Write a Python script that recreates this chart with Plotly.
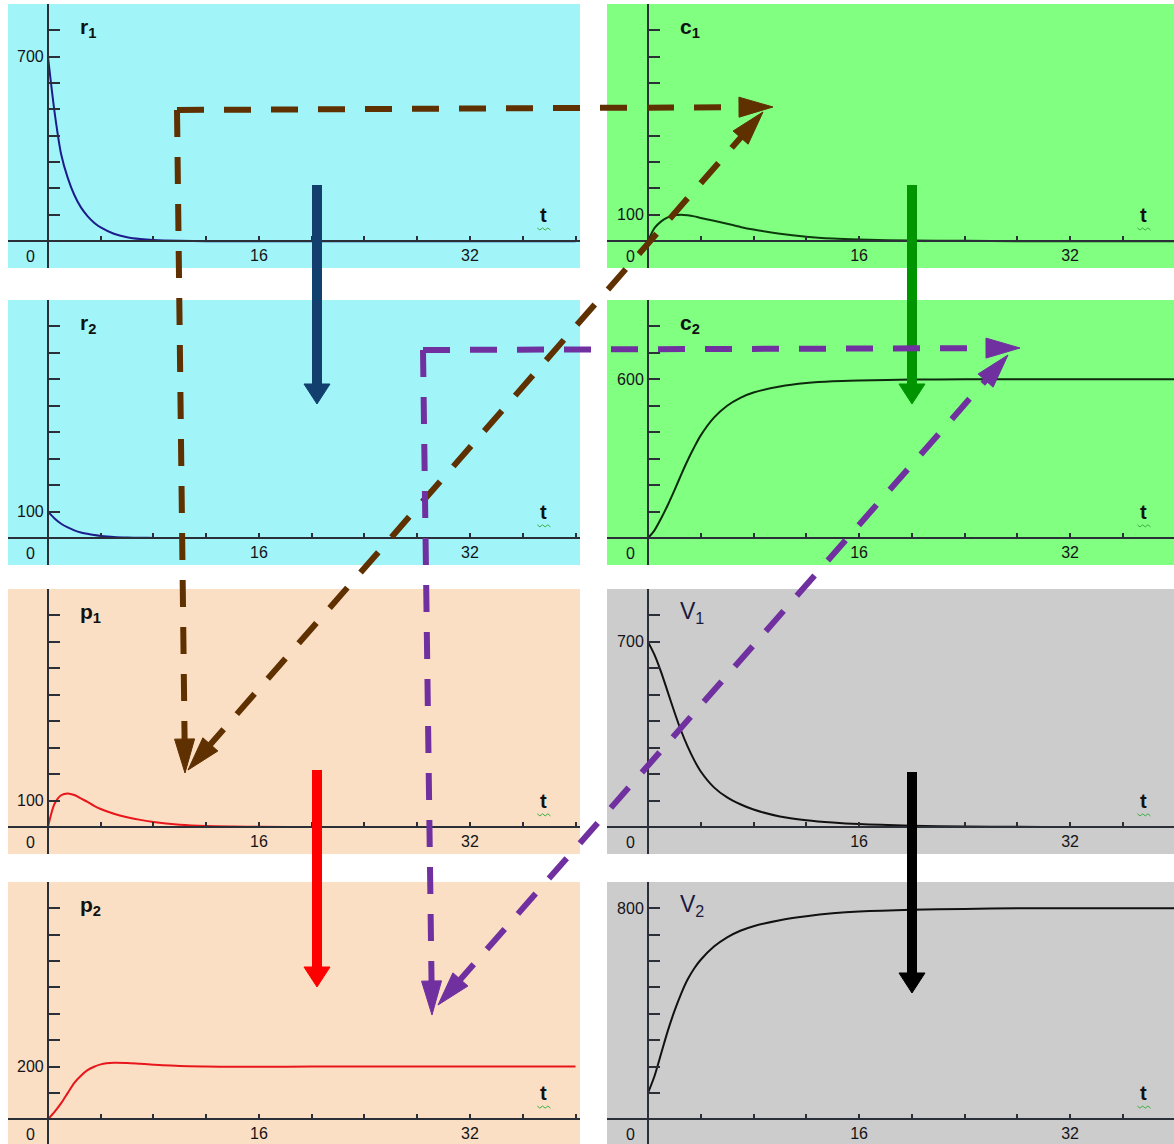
import math
import plotly.graph_objects as go

W, H = 1174, 1144

# ---------------- data ----------------
t = [0, 0.5, 1, 1.5, 2, 2.5, 3, 3.5, 4, 5, 6, 7, 8, 10, 12, 14, 16, 20, 24, 28, 32, 36, 40]

r1 = [700, 490, 330, 240, 175, 128, 95, 70, 52, 28, 15, 8, 4, 1, 0, 0, 0, 0, 0, 0, 0, 0, 0]
r2 = [100, 74, 54, 40, 29, 21, 16, 11, 8, 4, 2, 1, 0.5, 0, 0, 0, 0, 0, 0, 0, 0, 0, 0]
p1 = [0, 88, 120, 127, 121, 108, 95, 80, 68, 50, 37, 27, 19, 9, 4, 2, 1, 0, 0, 0, 0, 0, 0]
p2 = [0, 28, 61, 100, 138, 165, 186, 199, 208, 214, 213, 210, 207, 202, 200, 199, 199, 200, 200, 200, 200, 200, 200]
c1 = [0, 50, 75, 90, 98, 100, 98, 94, 88, 77, 66, 54, 44, 28, 17, 10, 6, 2, 1, 0, 0, 0, 0]
c2 = [0, 30, 75, 125, 180, 238, 293, 343, 388, 455, 500, 530, 550, 573, 586, 593, 596, 599, 600, 600, 600, 600, 600]
V1 = [700, 650, 585, 510, 435, 365, 305, 253, 210, 150, 112, 86, 66, 40, 26, 17, 11, 5, 2, 1, 0, 0, 0]
V2 = [100, 165, 250, 335, 410, 475, 530, 572, 605, 655, 690, 715, 732, 755, 770, 781, 788, 795, 798, 800, 800, 800, 800]

panel_names = ["r1", "c1", "r2", "c2", "p1", "V1", "p2", "V2"]
panel_titles = ["<b>r<sub>1</sub></b>", "<b>c<sub>1</sub></b>", "<b>r<sub>2</sub></b>", "<b>c<sub>2</sub></b>",
                "<b>p<sub>1</sub></b>", "V<sub>1</sub>", "<b>p<sub>2</sub></b>", "V<sub>2</sub>"]
panel_series = [r1, c1, r2, c2, p1, V1, p2, V2]
panel_label_value = [700, 100, 100, 600, 100, 700, 200, 800]
y_tick_values = [100, 200, 300, 400, 500, 600, 700, 800]
x_tick_values = [4, 8, 12, 16, 20, 24, 28, 32, 36, 40]
x_labeled_ticks = [16, 32]

# ---------------- styles / layout constants ----------------
line_colors = ["#1c1c8a", "#0d3a0d", "#1c1c8a", "#0d2a0d", "#e8161b", "#111111", "#e8161b", "#111111"]
bg_colors = ["#a1f5f9", "#80ff80", "#a1f5f9", "#80ff80", "#fbdfc4", "#cccccc", "#fbdfc4", "#cccccc"]
title_colors = ["#111111", "#111111", "#111111", "#111111", "#111111", "#1a1a40", "#111111", "#1a1a40"]

col_px = [(8, 580), (607, 1174)]
row_px = [(4, 268), (300, 565), (589, 854), (882, 1144)]
x_ranges = [[-3.03, 40.34], [-3.11, 39.88]]
y_ranges = [[-102, 900], [-102, 900], [-102, 900], [-94, 900]]

AXIS_COLOR = "#2b3038"
TEXT_COLOR = "#141418"
FONT = "Liberation Sans, Arial, sans-serif"

fig = go.Figure()
layout = dict(
    width=W, height=H, margin=dict(l=0, r=0, t=0, b=0),
    paper_bgcolor="white", plot_bgcolor="rgba(0,0,0,0)",
    showlegend=False, font=dict(family=FONT, size=16, color=TEXT_COLOR),
)
shapes = []
annotations = []

for i, name in enumerate(panel_names):
    row, col = divmod(i, 2)
    k = i + 1
    xa = "x" if k == 1 else f"x{k}"
    ya = "y" if k == 1 else f"y{k}"
    xd = [col_px[col][0] / W, col_px[col][1] / W]
    yd = [1 - row_px[row][1] / H, 1 - row_px[row][0] / H]
    xr = x_ranges[col]
    yr = y_ranges[row]
    # paper position of the zero lines
    y0_paper = yd[0] + (0 - yr[0]) / (yr[1] - yr[0]) * (yd[1] - yd[0])
    x0_paper = xd[0] + (0 - xr[0]) / (xr[1] - xr[0]) * (xd[1] - xd[0])

    fig.add_trace(go.Scatter(x=t, y=panel_series[i], mode="lines", xaxis=xa, yaxis=ya,
                             line=dict(color=line_colors[i], width=2, shape="spline", smoothing=0.8),
                             hoverinfo="skip"))

    layout["xaxis" if k == 1 else f"xaxis{k}"] = dict(
        domain=xd, range=xr, anchor="free", position=y0_paper,
        showline=True, linecolor=AXIS_COLOR, linewidth=2,
        ticks="inside", ticklen=4, tickwidth=1.5, tickcolor=AXIS_COLOR,
        tickmode="array", tickvals=x_labeled_ticks,
        ticktext=[str(v) for v in x_labeled_ticks],
        minor=dict(tickvals=x_tick_values, ticks="inside", ticklen=4, tickwidth=1.5,
                   tickcolor=AXIS_COLOR, showgrid=False),
        tickfont=dict(size=16, color=TEXT_COLOR, family=FONT),
        showgrid=False, zeroline=False, fixedrange=True,
    )
    layout["yaxis" if k == 1 else f"yaxis{k}"] = dict(
        domain=yd, range=yr, anchor="free", position=x0_paper,
        showline=True, linecolor=AXIS_COLOR, linewidth=2,
        ticks="inside", ticklen=11, tickwidth=1.5, tickcolor=AXIS_COLOR,
        tickmode="array", tickvals=[panel_label_value[i]],
        ticktext=[str(panel_label_value[i])],
        minor=dict(tickvals=y_tick_values, ticks="inside", ticklen=11, tickwidth=1.5,
                   tickcolor=AXIS_COLOR, showgrid=False),
        tickfont=dict(size=16, color=TEXT_COLOR, family=FONT),
        showgrid=False, zeroline=False, fixedrange=True,
    )
    # panel background
    shapes.append(dict(type="rect", xref=f"{xa} domain", yref=f"{ya} domain",
                       x0=0, x1=1, y0=0, y1=1, layer="below",
                       fillcolor=bg_colors[i], line=dict(width=0)))
    # panel title
    is_v = name.startswith("V")
    annotations.append(dict(xref=xa, yref=ya, x=2.3, y=810, text=panel_titles[i],
                            showarrow=False, xanchor="left", yanchor="middle",
                            font=dict(size=23 if is_v else 21, color=title_colors[i], family=FONT)))
    # origin label
    annotations.append(dict(xref=xa, yref=ya, x=0, y=0, text="0", showarrow=False,
                            xanchor="right", yanchor="top", xshift=-11, yshift=-5,
                            font=dict(size=16, color=TEXT_COLOR, family=FONT)))
    # t label
    annotations.append(dict(xref=xa, yref=ya, x=37.6, y=100, text="<b>t</b>", showarrow=False,
                            xanchor="center", yanchor="middle",
                            font=dict(size=20, color="#111111", family=FONT)))
    # small green spell-check squiggle under the t
    wave_x = [37.1, 37.3, 37.5, 37.7, 37.9, 38.1]
    wave_y = [50, 42, 50, 42, 50, 42]
    path = "M " + " L ".join(f"{a},{b}" for a, b in zip(wave_x, wave_y))
    shapes.append(dict(type="path", xref=xa, yref=ya, path=path,
                       line=dict(color="#3cb043", width=1), layer="above"))


# ---------------- overlay arrows (pixel positions of the drawing) ----------------
def P(x, y):
    return x / W, 1 - y / H


def arrow(x0, y0, x1, y1, color, width, dash=None, head_len=34, head_w=20, both=False):
    dx, dy = x1 - x0, y1 - y0
    L = math.hypot(dx, dy)
    ux, uy = dx / L, dy / L
    sx, sy = x0, y0
    ex, ey = x1 - ux * head_len * 0.8, y1 - uy * head_len * 0.8
    if both:
        sx, sy = x0 + ux * head_len * 0.8, y0 + uy * head_len * 0.8
    a, b = P(sx, sy)
    c, d = P(ex, ey)
    ln = dict(color=color, width=width)
    if dash:
        ln["dash"] = dash
    shapes.append(dict(type="line", xref="paper", yref="paper", x0=a, y0=b, x1=c, y1=d,
                       line=ln, layer="above"))

    def head(tx, ty, vx, vy):
        bx, by = tx - vx * head_len, ty - vy * head_len
        px_, py_ = -vy, vx
        pts = [(tx, ty), (bx + px_ * head_w / 2, by + py_ * head_w / 2),
               (bx - px_ * head_w / 2, by - py_ * head_w / 2)]
        pp = [P(*q) for q in pts]
        path = "M {:.5f},{:.5f} L {:.5f},{:.5f} L {:.5f},{:.5f} Z".format(
            pp[0][0], pp[0][1], pp[1][0], pp[1][1], pp[2][0], pp[2][1])
        shapes.append(dict(type="path", xref="paper", yref="paper", path=path,
                           fillcolor=color, line=dict(color=color, width=1), layer="above"))

    head(x1, y1, ux, uy)
    if both:
        head(x0, y0, -ux, -uy)


BROWN = "#5f3000"
PURPLE = "#7030a0"
DASH = "27px,20px"

# solid arrows
arrow(317, 185, 317, 404, "#123f6e", 10, head_len=20, head_w=26)
arrow(912, 185, 912, 404, "#009400", 10, head_len=20, head_w=26)
arrow(317, 770, 317, 987, "#ff0000", 10, head_len=20, head_w=26)
arrow(912, 772, 912, 993, "#000000", 10, head_len=20, head_w=26)

# brown dashed arrows
arrow(177, 110, 773, 107, BROWN, 6, DASH)
arrow(177, 110, 185, 773, BROWN, 6, DASH)
arrow(188, 770, 763, 112, BROWN, 6, DASH, both=True)

# purple dashed arrows
arrow(423, 350, 1020, 348, PURPLE, 6, DASH)
arrow(423, 350, 432, 1015, PURPLE, 6, DASH)
arrow(438, 1005, 1008, 355, PURPLE, 6, DASH, both=True)

layout["shapes"] = shapes
layout["annotations"] = annotations
fig.update_layout(**layout)

fig.write_html("out.html", config={"displayModeBar": False},
               post_script="document.body.style.margin='0';")
